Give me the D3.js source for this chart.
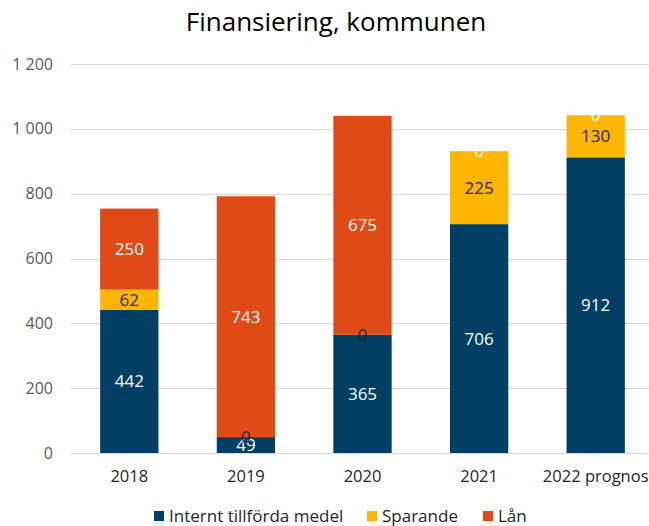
<!DOCTYPE html>
<html lang="sv">
<head>
<meta charset="UTF-8">
<title>Finansiering, kommunen</title>
<style>
  body { margin: 0; background: #fff; }
  text { font-family: "Open Sans", sans-serif; }
  .grid line { stroke: #d9d9d9; stroke-width: 1px; }
</style>
</head>
<body>
<script src="https://d3js.org/d3.v7.min.js"></script>
<script>
const years = ["2018", "2019", "2020", "2021", "2022 prognos"];
const internt = [442, 49, 365, 706, 912];
const sparande = [62, 0, 0, 225, 130];
const lan = [250, 743, 675, 0, 0];
const yTicks = [0, 200, 400, 600, 800, 1000, 1200];

const series = [
  { name: "Internt tillförda medel", values: internt, color: "#003f63", label: "#fff" },
  { name: "Sparande", values: sparande, color: "#ffb600", label: "#262626" },
  { name: "Lån", values: lan, color: "#e04a16", label: "#fff" }
];

const width = 649, height = 526;
const svg = d3.select("body").append("svg")
  .attr("width", width).attr("height", height);

const x = d3.scaleBand().domain(years).range([71, 654]).paddingInner(0.5).paddingOuter(0.25);
const y = d3.scaleLinear().domain([0, 1200]).range([453, 64]);

// gridlines
svg.append("g").attr("class", "grid")
  .selectAll("line").data(yTicks).enter().append("line")
  .attr("x1", 71).attr("x2", 649)
  .attr("y1", d => Math.round(y(d)) + 0.5).attr("y2", d => Math.round(y(d)) + 0.5);

// y tick labels
svg.append("g").selectAll("text").data(yTicks).enter().append("text")
  .attr("x", 53).attr("y", d => y(d) + 5.5)
  .attr("text-anchor", "end")
  .attr("font-size", 16).attr("fill", "#595959")
  .text(d => d3.format(",")(d).replace(",", " "));

// stack
const rows = years.map((yr, i) => {
  const r = { year: yr };
  series.forEach(s => r[s.name] = s.values[i]);
  return r;
});
const stack = d3.stack().keys(series.map(s => s.name))(rows);

stack.forEach((layer, si) => {
  const s = series[si];
  svg.append("g").selectAll("rect").data(layer).enter().append("rect")
    .attr("x", d => x(d.data.year))
    .attr("width", x.bandwidth())
    .attr("y", d => y(d[1]))
    .attr("height", d => y(d[0]) - y(d[1]))
    .attr("fill", s.color);
});

// labels drawn after all bars
stack.forEach((layer, si) => {
  const s = series[si];
  svg.append("g").selectAll("text").data(layer).enter().append("text")
    .attr("x", d => x(d.data.year) + x.bandwidth() / 2)
    .attr("y", d => y((d[0] + d[1]) / 2) + 6)
    .attr("text-anchor", "middle")
    .attr("font-size", 17)
    .attr("fill", s.label)
    .text(d => d[1] - d[0]);
});

// x labels
svg.append("g").selectAll("text").data(years).enter().append("text")
  .attr("x", d => x(d) + x.bandwidth() / 2)
  .attr("y", 482)
  .attr("text-anchor", "middle")
  .attr("font-size", 16.5).attr("fill", "#262626")
  .text(d => d);

// title
svg.append("text")
  .attr("x", 336).attr("y", 31)
  .attr("text-anchor", "middle")
  .attr("font-size", 26).attr("fill", "#000")
  .text("Finansiering, kommunen");

// legend
const legendX = [154, 367, 483];
const lg = svg.append("g").selectAll("g").data(series).enter().append("g")
  .attr("transform", (d, i) => `translate(${legendX[i]}, 511)`);
lg.append("rect").attr("width", 10).attr("height", 10).attr("fill", d => d.color);
lg.append("text").attr("x", 15).attr("y", 11)
  .attr("font-size", 17).attr("fill", "#262626")
  .text(d => d.name);
</script>
</body>
</html>
